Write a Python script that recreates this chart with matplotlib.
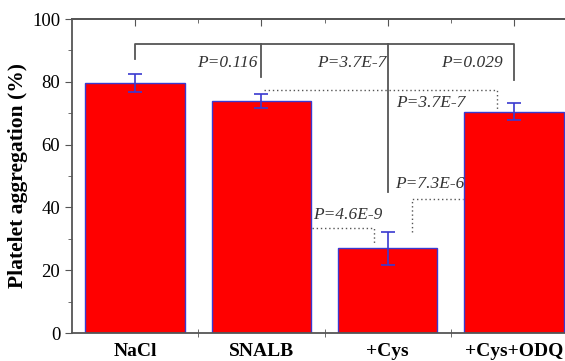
import matplotlib
matplotlib.use("Agg")
import matplotlib.pyplot as plt
import numpy as np

# data
groups = ["NaCl", "SNALB", "+Cys", "+Cys+ODQ"]
means = [79.7, 73.9, 27.0, 70.5]
errs = [2.8, 2.2, 5.3, 2.8]

# p-value labels: (text, x, y, ha)
p_labels = ["P=0.116", "P=3.7E-7", "P=0.029", "P=3.7E-7", "P=7.3E-6", "P=4.6E-9"]
p_x = [1.97, 2.99, 3.91, 3.07, 3.06, 2.41]
p_y = [85.9, 85.9, 85.9, 73.2, 47.5, 37.6]
p_ha = ["right", "right", "right", "left", "left", "left"]

plt.rcParams['font.family'] = ['Liberation Serif', 'DejaVu Serif']

fig = plt.figure(figsize=(5.65, 3.61), dpi=100)
ax = fig.add_axes([72 / 565, 28 / 361, 505 / 565, 314 / 361])

gray = "#555555"
x = np.arange(1, len(groups) + 1)
ax.bar(x, means, width=0.79, color="#ff0000", edgecolor="#3a3ad0", linewidth=1, zorder=2)
ax.errorbar(x, means, yerr=errs, fmt="none", ecolor="#3a3ad0", elinewidth=1.2,
            capsize=5, capthick=1.2, zorder=3)

# solid bracket: NaCl vs others
ax.plot([1, 1, 4, 4], [87.2, 92.0, 92.0, 80.6], color=gray, lw=1.3, zorder=1)
ax.plot([2, 2], [92.0, 81.4], color=gray, lw=1.3, zorder=1)
ax.plot([3, 3], [92.0, 45.0], color=gray, lw=1.3, zorder=1)

# dotted brackets
ax.plot([2.02, 3.87, 3.87], [77.4, 77.4, 71.0], color=gray, lw=1, ls=(0, (1, 2)), zorder=1)
ax.plot([2.4, 2.89, 2.89], [33.3, 33.3, 28.0], color=gray, lw=1, ls=(0, (1, 2)), zorder=1)
ax.plot([3.19, 3.19, 3.6], [32.3, 42.8, 42.8], color=gray, lw=1, ls=(0, (1, 2)), zorder=1)

for t, px, py, ha in zip(p_labels, p_x, p_y, p_ha):
    ax.text(px, py, t, ha=ha, va="center", style="italic", fontsize=12.5, color="#333333")

ax.set_xlim(0.5, 4.5)
ax.set_ylim(0, 100)
ax.set_yticks(np.arange(0, 101, 20))
ax.set_yticks(np.arange(10, 100, 20), minor=True)
ax.set_xticks(x)
ax.set_xticklabels(groups, fontweight="bold", fontsize=14)
ax.set_xticks([1.5, 2.5, 3.5], minor=True)
ax.tick_params(axis="x", which="major", length=0, pad=7)
ax.tick_params(axis="x", which="minor", direction="inout", length=6, color=gray)
ax.tick_params(axis="y", which="major", direction="out", length=5, color=gray, labelsize=13.5)
ax.tick_params(axis="y", which="minor", direction="out", length=3, color=gray)
ax.set_ylabel("Platelet aggregation (%)", fontweight="bold", fontsize=15.5, labelpad=3)

for s in ["left", "bottom", "top"]:
    ax.spines[s].set_color(gray)
    ax.spines[s].set_linewidth(1.3)
ax.spines["right"].set_visible(False)

top = ax.secondary_xaxis("top")
top.set_xticks(x)
top.set_xticks([1.5, 2.5, 3.5, 4.5], minor=True)
top.tick_params(which="major", direction="in", length=5, color=gray, labeltop=False)
top.tick_params(which="minor", direction="in", length=3, color=gray)
top.spines["top"].set_color(gray)
top.spines["top"].set_linewidth(1.3)

fig.savefig("out.png", dpi=100)
